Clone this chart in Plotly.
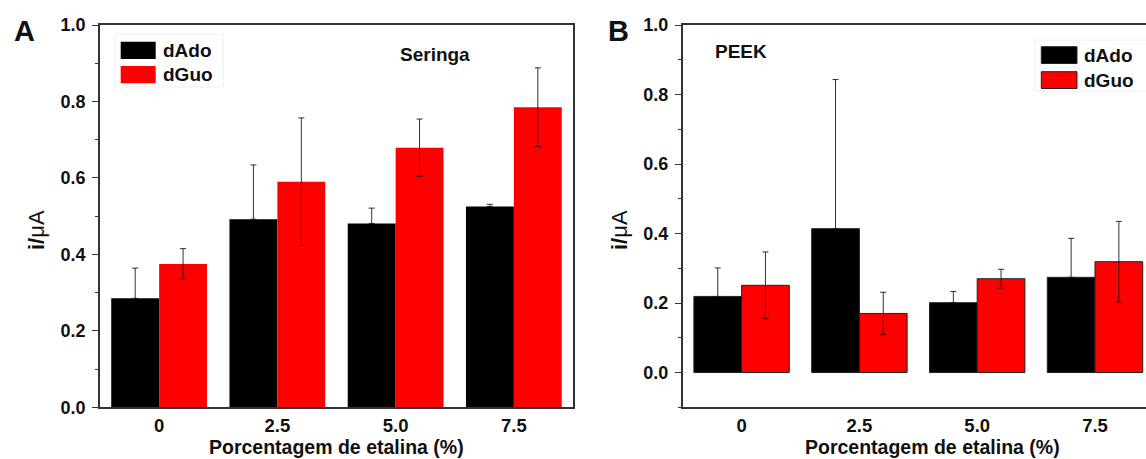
import plotly.graph_objects as go

W, H = 1146, 459

# ---- data -------------------------------------------------------------
categories = ["0", "2.5", "5.0", "7.5"]
series_names = ["dAdo", "dGuo"]
series_colors = ["#000000", "#ff0000"]

seringa_dado = [0.285, 0.492, 0.481, 0.525]
seringa_dado_err = [0.079, 0.142, 0.040, 0.006]
seringa_dguo = [0.375, 0.590, 0.679, 0.785]
seringa_dguo_err = [0.040, 0.167, 0.075, 0.103]

peek_dado = [0.219, 0.414, 0.201, 0.274]
peek_dado_err = [0.082, 0.429, 0.032, 0.112]
peek_dguo = [0.251, 0.170, 0.270, 0.319]
peek_dguo_err = [0.096, 0.061, 0.027, 0.116]

y_ticks = [0.0, 0.2, 0.4, 0.6, 0.8, 1.0]
y_tick_text = ["0.0", "0.2", "0.4", "0.6", "0.8", "1.0"]

x_title = "Porcentagem de etalina (%)"
y_title = "<b>i/</b>μA"

FONT = "Liberation Sans, Arial, sans-serif"
AXIS_COLOR = "#333333"


def px(x):
    return x / W


def py(y):
    return 1 - y / H


fig = go.Figure()

panels = [
    ("x", "y", [seringa_dado, seringa_dguo], [seringa_dado_err, seringa_dguo_err], 0),
    ("x2", "y2", [peek_dado, peek_dguo], [peek_dado_err, peek_dguo_err], 1),
]
for xa, ya, vals, errs, outline in panels:
    for i, (name, color, v, e) in enumerate(zip(series_names, series_colors, vals, errs)):
        # the lower half of the dAdo bars' error bars is hidden inside the black bar
        minus = [0] * len(e) if i == 0 else e
        fig.add_trace(go.Bar(
            x=categories, y=v, name=name, xaxis=xa, yaxis=ya,
            marker=dict(color=color,
                        line=dict(color="#222222", width=outline)),
            error_y=dict(type="data", symmetric=False, array=e, arrayminus=minus,
                         visible=True, color="#1a1a1a", thickness=0.9, width=3),
            showlegend=False,
        ))

ydom = [py(407.3), py(25)]

common_x = dict(
    type="category", showline=True, linecolor=AXIS_COLOR, linewidth=1.5,
    mirror=True, ticks="outside", ticklen=1, tickcolor="rgba(0,0,0,0)",
    tickfont=dict(family=FONT, size=18.5, color="#111", weight="bold"),
    showgrid=False, zeroline=False, fixedrange=True,
)
common_y = dict(
    showline=True, linecolor=AXIS_COLOR, linewidth=1.5,
    ticks="outside", ticklen=6, tickwidth=1.3, tickcolor=AXIS_COLOR,
    tickvals=y_ticks, ticktext=y_tick_text, ticklabelstandoff=3,
    tickfont=dict(family=FONT, size=18, color="#111", weight="bold"),
    minor=dict(ticks="outside", ticklen=3, tickwidth=1.2,
               tickcolor=AXIS_COLOR, dtick=0.1, showgrid=False),
    showgrid=False, zeroline=False, fixedrange=True,
)

fig.update_layout(
    width=W, height=H,
    margin=dict(l=0, r=0, t=0, b=0, autoexpand=False),
    paper_bgcolor="white", plot_bgcolor="white",
    barmode="group", bargap=0.19, bargroupgap=0,
    xaxis=dict(common_x, domain=[px(100), px(573)], range=[-0.5, 3.5],
               anchor="y"),
    yaxis=dict(common_y, domain=ydom, range=[0, 1.0], mirror=True,
               anchor="x"),
    xaxis2=dict(common_x, domain=[px(682.7), 1.0], range=[-0.5, 3.433],
                anchor="y2"),
    yaxis2=dict(common_y, domain=ydom, range=[-0.1, 1.0], mirror=False,
                anchor="x2"),
)

annotations = []
shapes = []

# panel letters, axis titles and panel captions
for letter, lx, tx, xtx, cap, cx, cy in [("A", 12, 37, 336, "Seringa", 398, 54),
                                          ("B", 606, 620, 932, "PEEK", 713, 52)]:
    annotations.append(dict(
        text=f"<b>{letter}</b>", x=px(lx), y=py(31), xref="paper", yref="paper",
        xanchor="left", yanchor="middle", showarrow=False,
        font=dict(family=FONT, size=29, color="#111")))
    annotations.append(dict(
        text=y_title, x=px(tx), y=py(230), xref="paper", yref="paper",
        xanchor="center", yanchor="middle", showarrow=False, textangle=-90,
        font=dict(family=FONT, size=22, color="#111")))
    annotations.append(dict(
        text=f"<b>{x_title}</b>", x=px(xtx), y=py(447), xref="paper", yref="paper",
        xanchor="center", yanchor="middle", showarrow=False,
        font=dict(family=FONT, size=19.5, color="#111")))
    annotations.append(dict(
        text=f"<b>{cap}</b>", x=px(cx), y=py(cy), xref="paper", yref="paper",
        xanchor="left", yanchor="middle", showarrow=False,
        font=dict(family=FONT, size=19, color="#111")))

# legends: (box x0, x1, y0, y1), swatch x0, x1, row tops, text x, outline
legends = [
    ((115, 223, 34, 87), 120.7, 155.7, [41.7, 66.0], 17.3, 160.5, 0),
    ((1035, 1150, 40, 91), 1041.3, 1077, [46.7, 71.7], 16.8, 1081.5, 1),
]
for (bx0, bx1, by0, by1), sx0, sx1, tops, sh, txx, outline in legends:
    shapes.append(dict(type="rect", xref="paper", yref="paper",
                       x0=px(bx0), x1=px(bx1), y0=py(by1), y1=py(by0),
                       line=dict(color="#eeeeee", width=1), fillcolor="white",
                       layer="above"))
    for name, color, top in zip(series_names, series_colors, tops):
        shapes.append(dict(type="rect", xref="paper", yref="paper",
                           x0=px(sx0), x1=px(sx1), y0=py(top + sh), y1=py(top),
                           line=dict(color="#222222", width=outline),
                           fillcolor=color, layer="above"))
        annotations.append(dict(
            text=f"<b>{name}</b>", x=px(txx), y=py(top + sh / 2),
            xref="paper", yref="paper", xanchor="left", yanchor="middle",
            showarrow=False, font=dict(family=FONT, size=19, color="#111")))

fig.update_layout(annotations=annotations, shapes=shapes)

fig.write_html("out.html")
